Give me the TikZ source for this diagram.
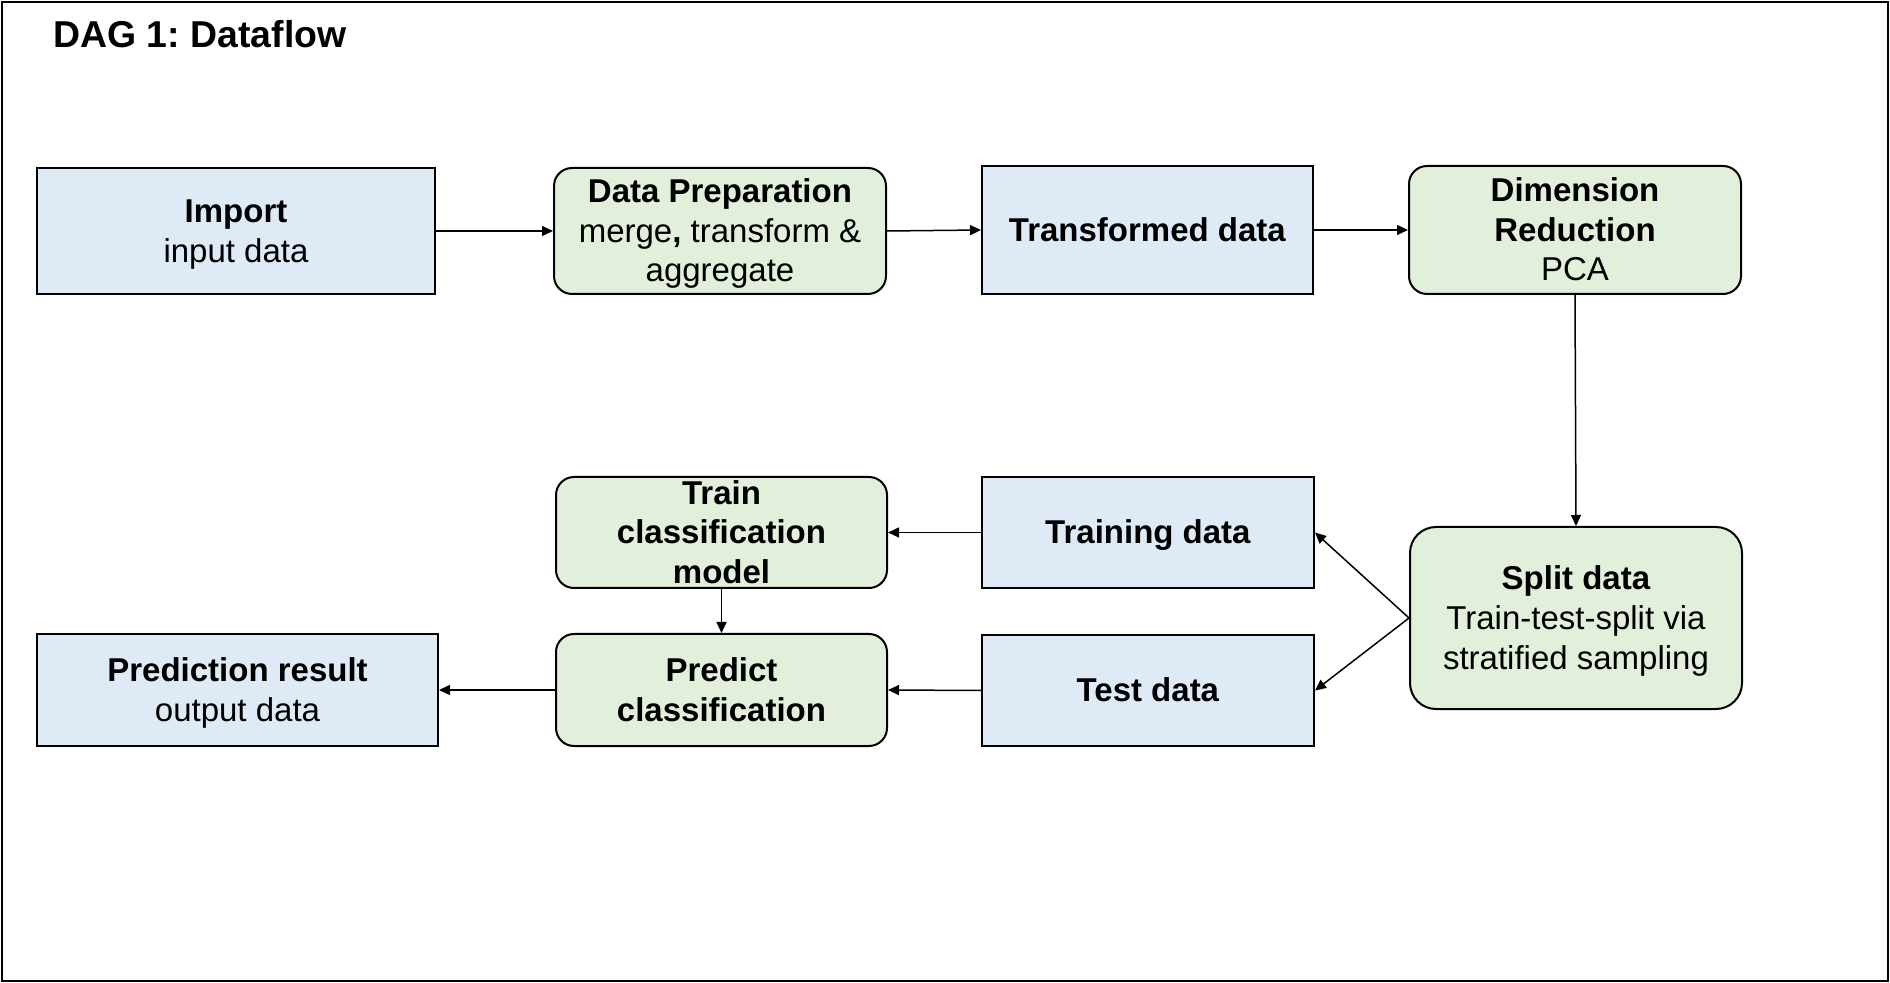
\documentclass[tikz,border=0pt]{standalone}
\usepackage{fontspec}
\setmainfont{Liberation Sans}
\usetikzlibrary{arrows.meta}
\definecolor{boxblue}{HTML}{DEEBF7}
\definecolor{boxgreen}{HTML}{E2EFDA}
\newcommand\tl{\vrule width 0pt height 15.6pt depth 0pt\relax}
\newcommand\bl{\vrule width 0pt height 0pt depth 4.2pt\relax}
\newcommand\tlsmall{\vrule width 0pt height 13.6pt depth 0pt\relax}
\newcommand\blsmall{\vrule width 0pt height 0pt depth 2.2pt\relax}
\tikzset{
  txt/.style={font=\fontsize{16.5}{19.8}\selectfont},
  databox/.style={txt, draw=black, line width=1pt, fill=boxblue, align=center, inner sep=0pt},
  procbox/.style={txt, draw=black, line width=1pt, fill=boxgreen, align=center, inner sep=0pt, rounded corners=9pt},
  flow/.style={line width=0.75pt, -{Triangle[length=5.5pt,width=5pt]}},
}
\begin{document}
\begin{tikzpicture}[x=0.5pt,y=-0.5pt]
\useasboundingbox (0,0) rectangle (1890,983);
\draw[line width=1pt] (1.5,2.5) rectangle (1888,981);
\node[anchor=west, inner sep=0pt, font=\fontsize{18.7}{22}\selectfont\bfseries\frenchspacing] (title) at (53,34) {DAG 1: Dataflow};

\node[databox, minimum width=199pt, minimum height=63pt] (import) at (236,231) {\tl\textbf{Import}\\input data\bl};
\node[procbox, minimum width=166pt, minimum height=63pt] (prep) at (720,231) {\tl\textbf{Data Preparation}\\merge\textbf{,} transform \&\\aggregate\bl};
\node[databox, minimum width=165.5pt, minimum height=64pt] (trans) at (1147.5,230) {\tl\textbf{Transformed data}\bl};
\node[procbox, minimum width=166pt, minimum height=64pt] (dimred) at (1575,230) {\tl\textbf{Dimension}\\\textbf{Reduction}\\PCA\bl};

\node[procbox, minimum width=165.5pt, minimum height=55.5pt] (trainmodel) at (721.5,532.5) {\tlsmall\textbf{Train}\\\textbf{classification}\\\textbf{model}\blsmall};
\node[databox, minimum width=166pt, minimum height=55.5pt] (traindata) at (1148,532.5) {\tl\textbf{Training data}\bl};
\node[procbox, rounded corners=13pt, minimum width=166pt, minimum height=91pt] (split) at (1576,618) {\tl\textbf{Split data}\\Train-test-split via\\stratified sampling\bl};

\node[databox, minimum width=200.5pt, minimum height=56pt] (result) at (237.5,690) {\tl\textbf{Prediction result}\\output data\bl};
\node[procbox, minimum width=165.5pt, minimum height=56pt] (predict) at (721.5,690) {\tl\textbf{Predict}\\\textbf{classification}\bl};
\node[databox, minimum width=166pt, minimum height=55.5pt] (testdata) at (1148,690.5) {\tl\textbf{Test data}\bl};

\draw[flow] (import.east) -- (prep.west);
\draw[flow] (prep.east) -- (trans.west);
\draw[flow] (trans.east) -- (dimred.west);
\draw[flow] (dimred.south) -- (split.north);
\draw[flow] (split.west) -- (traindata.east);
\draw[flow] (split.west) -- (testdata.east);
\draw[flow] (traindata.west) -- (trainmodel.east);
\draw[flow] (trainmodel.south) -- (predict.north);
\draw[flow] (testdata.west) -- (predict.east);
\draw[flow] (predict.west) -- (result.east);
\end{tikzpicture}
\end{document}
